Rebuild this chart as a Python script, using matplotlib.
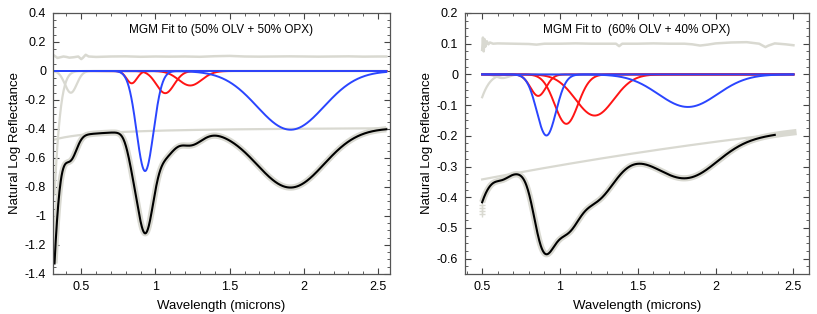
import numpy as np
import matplotlib.pyplot as plt
from matplotlib.ticker import MultipleLocator, FormatStrFormatter

plt.rcParams['font.family'] = ['Liberation Sans', 'DejaVu Sans']
plt.rcParams['axes.unicode_minus'] = False

# --- band parameters: (center um, depth, width um) ---
# left panel: 50% OLV + 50% OPX
blue_L = [(0.93, 0.69, 0.057), (1.91, 0.405, 0.225)]
red_L = [(0.84, 0.085, 0.035), (1.066, 0.153, 0.06), (1.234, 0.10, 0.078)]
uv_L = [(0.20, 3.58, 0.0708), (0.43, 0.15, 0.04)]
cont_L = (-0.384, -0.0284)          # c0 + c1 / wl
range_L = (0.32, 2.555)

# right panel: 60% OLV + 40% OPX
blue_R = [(0.913, 0.199, 0.062), (1.822, 0.106, 0.19)]
red_R = [(0.86, 0.07, 0.05), (1.041, 0.161, 0.075), (1.223, 0.134, 0.123)]
uv_R = [(0.35, 0.30, 0.0898), (0.63, 0.012, 0.04)]
cont_R = (-0.393, 0.107, -0.0101)   # c0 + c1*wl + c2*wl^2
range_R = (0.5, 2.5)
model_end_R = 2.38
meas_end_R = 2.52

# residuals (offset by +0.1)
res_wl_L = [0.32, 0.34, 0.36, 0.38, 0.40, 0.42, 0.45, 0.48, 0.50, 0.51, 0.53,
            0.55, 0.6, 0.7, 0.8, 0.9, 1.0, 1.1, 1.2, 1.3, 1.4, 1.5, 1.6, 1.7,
            1.8, 1.9, 2.0, 2.1, 2.2, 2.3, 2.4, 2.5, 2.555]
res_L = [0.105, 0.09, 0.095, 0.1, 0.097, 0.092, 0.095, 0.1, 0.082, 0.09, 0.112,
         0.1, 0.097, 0.1, 0.101, 0.098, 0.1, 0.099, 0.1, 0.098, 0.102, 0.104,
         0.1, 0.099, 0.1, 0.101, 0.1, 0.099, 0.1, 0.101, 0.099, 0.1, 0.1]
res_wl_R = [0.5, 0.505, 0.51, 0.515, 0.52, 0.53, 0.54, 0.55, 0.57, 0.6, 0.7,
            0.8, 0.85, 0.9, 1.0, 1.1, 1.2, 1.3, 1.36, 1.38, 1.40, 1.5, 1.6,
            1.7, 1.8, 1.85, 1.9, 1.95, 2.0, 2.1, 2.2, 2.28, 2.32, 2.34, 2.38,
            2.45, 2.5]
res_R = [0.08, 0.12, 0.075, 0.115, 0.09, 0.108, 0.098, 0.104, 0.1, 0.101, 0.1,
         0.099, 0.097, 0.1, 0.1, 0.101, 0.1, 0.1, 0.1, 0.092, 0.1, 0.1, 0.101,
         0.1, 0.1, 0.098, 0.094, 0.097, 0.101, 0.104, 0.105, 0.1, 0.089,
         0.094, 0.101, 0.098, 0.095]
plus_wl_R = [0.5, 0.5, 0.5, 0.5]
plus_val_R = [-0.425, -0.435, -0.445, -0.455]

titles = ['MGM Fit to (50% OLV + 50% OPX)', 'MGM Fit to  (60% OLV + 40% OPX)']

BLUE = '#2a45ff'
RED = '#ff1414'
GRAY = '#d9d9d1'


def band(wl, c, s, w):
    return -s * np.exp(-(wl - c) ** 2 / (2 * w ** 2))


fig = plt.figure(figsize=(8.17, 3.14), dpi=100)
axL = fig.add_axes([0.0649, 0.1274, 0.4125, 0.8312])
axR = fig.add_axes([0.5692, 0.1274, 0.4210, 0.8312])

# ---- left panel ----
wl = np.linspace(*range_L, 800)
cont = cont_L[0] + cont_L[1] / wl
model = cont + sum(band(wl, *b) for b in blue_L + red_L + uv_L)
axL.plot(res_wl_L, res_L, color=GRAY, lw=1.8)
axL.plot(wl, model, color=GRAY, lw=4.5, solid_capstyle='butt')
axL.plot(wl, cont, color=GRAY, lw=1.6)
for b in uv_L:
    axL.plot(wl, band(wl, *b), color=GRAY, lw=1.6)
for b in red_L:
    axL.plot(wl, band(wl, *b), color=RED, lw=1.4)
for b in blue_L:
    axL.plot(wl, band(wl, *b), color=BLUE, lw=1.4)
axL.plot(wl, model, color='black', lw=1.5)
axL.set_xlim(0.31, 2.58)
axL.set_ylim(-1.4, 0.4)
axL.yaxis.set_major_locator(MultipleLocator(0.2))
axL.yaxis.set_minor_locator(MultipleLocator(0.05))

# ---- right panel ----
wl = np.linspace(*range_R, 800)
wl_m = np.linspace(range_R[0], meas_end_R, 800)


def cont_r(x):
    return cont_R[0] + cont_R[1] * x + cont_R[2] * x ** 2


def model_r(x):
    return cont_r(x) + sum(band(x, *b) for b in blue_R + red_R + uv_R)


axR.plot(res_wl_R, res_R, color=GRAY, lw=1.8)
axR.plot(wl_m, model_r(wl_m), color=GRAY, lw=4.5, solid_capstyle='butt')
axR.plot(plus_wl_R, plus_val_R, '+', color=GRAY, ms=5, mew=1)
wl_c = np.linspace(range_R[0], model_end_R, 800)
axR.plot(wl_c, cont_r(wl_c), color=GRAY, lw=1.6)
for b in uv_R:
    axR.plot(wl, band(wl, *b), color=GRAY, lw=1.6)
for b in red_R:
    axR.plot(wl, band(wl, *b), color=RED, lw=1.4)
for b in blue_R:
    axR.plot(wl, band(wl, *b), color=BLUE, lw=1.4)
axR.plot(wl_c, model_r(wl_c), color='black', lw=1.5)
axR.set_xlim(0.39, 2.6)
axR.set_ylim(-0.65, 0.2)
axR.yaxis.set_major_locator(MultipleLocator(0.1))
axR.yaxis.set_minor_locator(MultipleLocator(0.025))

for ax, t in zip([axL, axR], titles):
    ax.xaxis.set_major_locator(MultipleLocator(0.5))
    ax.xaxis.set_minor_locator(MultipleLocator(0.1))
    ax.xaxis.set_major_formatter(FormatStrFormatter('%g'))
    ax.yaxis.set_major_formatter(FormatStrFormatter('%g'))
    ax.tick_params(which='both', direction='in', top=True, right=True,
                   colors='#444444', labelcolor='black', labelsize=9)
    ax.tick_params(which='major', length=4, width=0.8, pad=5)
    ax.tick_params(which='minor', length=2, width=0.6)
    for sp in ax.spines.values():
        sp.set_color('#555555')
        sp.set_linewidth(0.9)
    ax.set_xlabel('Wavelength (microns)', fontsize=9.5, labelpad=5)
    ax.set_ylabel('Natural Log Reflectance', fontsize=9.5, labelpad=3)
    ax.text(0.5, 0.935, t, transform=ax.transAxes, ha='center', va='center',
            fontsize=8.5)

fig.savefig('out.png', dpi=100)
